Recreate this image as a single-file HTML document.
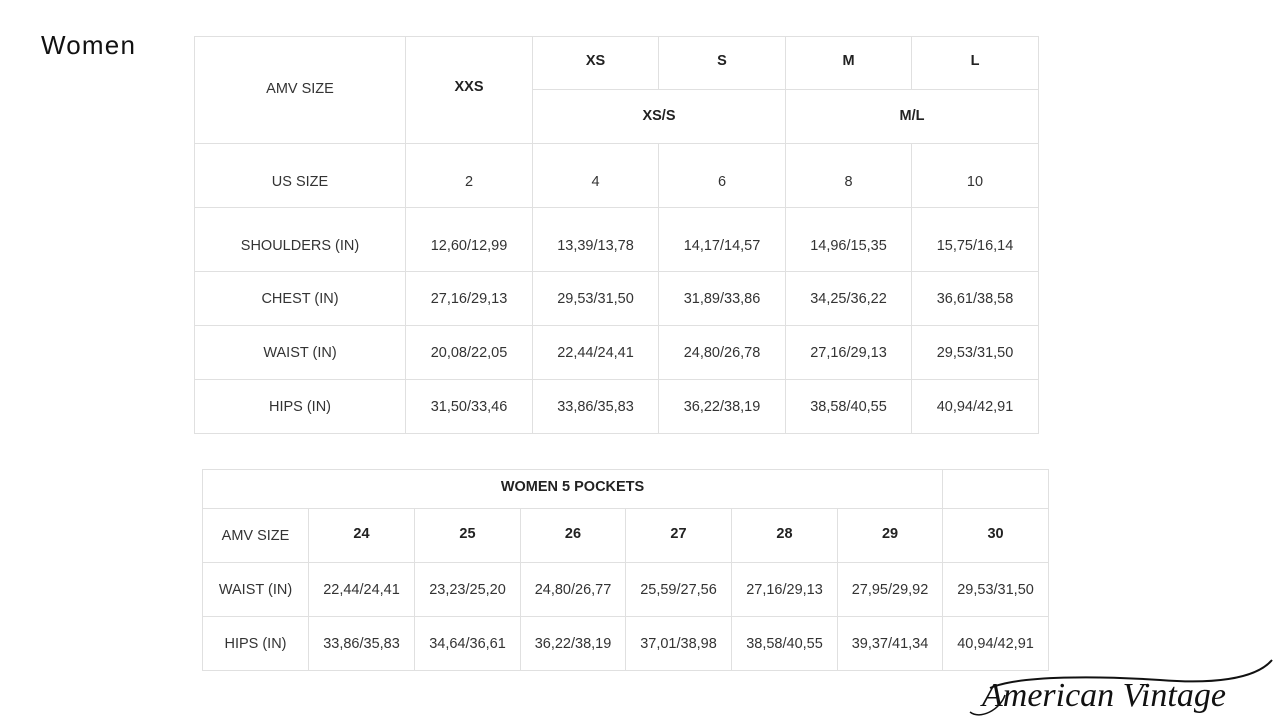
<!DOCTYPE html>
<html><head><meta charset="utf-8"><style>
body{margin:0;width:1280px;height:720px;background:#fff;position:relative;overflow:hidden;font-family:"Liberation Sans",Arial,sans-serif;color:#333}
.t{position:absolute;border-collapse:collapse;table-layout:fixed}
.t td{border:1px solid #e0e0e0;text-align:center;font-size:14.5px;padding:0;color:#333}
.t td.b{font-weight:bold;color:#222}
.t tr.u td{padding-bottom:4px}
.t tr.u2 td{padding-bottom:2px}
.t tr.d td{padding-top:12px}
.t tr.u3 td.b{padding-bottom:4px}
h1{position:absolute;left:41px;top:30px;margin:0;font-weight:normal;font-size:26px;color:#111;letter-spacing:1.2px}
</style></head><body>
<h1>Women</h1>
<table class="t" style="left:194px;top:36px;width:845px">
<colgroup><col style="width:211px"><col style="width:127px"><col style="width:126px"><col style="width:127px"><col style="width:126px"><col style="width:127px"></colgroup>
<tr class="u" style="height:53px"><td rowspan="2" style="padding-bottom:2px">AMV SIZE</td><td rowspan="2" class="b" style="padding-bottom:6px">XXS</td><td class="b">XS</td><td class="b">S</td><td class="b">M</td><td class="b">L</td></tr>
<tr class="u2" style="height:54px"><td colspan="2" class="b">XS/S</td><td colspan="2" class="b">M/L</td></tr>
<tr class="d" style="height:64px"><td>US SIZE</td><td>2</td><td>4</td><td>6</td><td>8</td><td>10</td></tr>
<tr class="d" style="height:64px"><td>SHOULDERS (IN)</td><td>12,60/12,99</td><td>13,39/13,78</td><td>14,17/14,57</td><td>14,96/15,35</td><td>15,75/16,14</td></tr>
<tr style="height:54px"><td>CHEST (IN)</td><td>27,16/29,13</td><td>29,53/31,50</td><td>31,89/33,86</td><td>34,25/36,22</td><td>36,61/38,58</td></tr>
<tr style="height:54px"><td>WAIST (IN)</td><td>20,08/22,05</td><td>22,44/24,41</td><td>24,80/26,78</td><td>27,16/29,13</td><td>29,53/31,50</td></tr>
<tr style="height:54px"><td>HIPS (IN)</td><td>31,50/33,46</td><td>33,86/35,83</td><td>36,22/38,19</td><td>38,58/40,55</td><td>40,94/42,91</td></tr>
</table>
<table class="t" style="left:202px;top:469px;width:846px">
<colgroup><col style="width:106px"><col style="width:106px"><col style="width:106px"><col style="width:105px"><col style="width:106px"><col style="width:106px"><col style="width:105px"><col style="width:106px"></colgroup>
<tr class="u" style="height:39px"><td colspan="7" class="b">WOMEN 5 POCKETS</td><td></td></tr>
<tr class="u3" style="height:54px"><td>AMV SIZE</td><td class="b">24</td><td class="b">25</td><td class="b">26</td><td class="b">27</td><td class="b">28</td><td class="b">29</td><td class="b">30</td></tr>
<tr style="height:54px"><td>WAIST (IN)</td><td>22,44/24,41</td><td>23,23/25,20</td><td>24,80/26,77</td><td>25,59/27,56</td><td>27,16/29,13</td><td>27,95/29,92</td><td>29,53/31,50</td></tr>
<tr style="height:54px"><td>HIPS (IN)</td><td>33,86/35,83</td><td>34,64/36,61</td><td>36,22/38,19</td><td>37,01/38,98</td><td>38,58/40,55</td><td>39,37/41,34</td><td>40,94/42,91</td></tr>
</table>
<svg style="position:absolute;left:960px;top:650px" width="320" height="70">
<path d="M30 38 C60 25,140 26,200 30 C250 34,295 30,312 10" fill="none" stroke="#111" stroke-width="2"/>
<path d="M10 62 C20 70,40 60,45 45" fill="none" stroke="#111" stroke-width="1.5"/>
<text x="22" y="56" font-family="Liberation Serif,serif" font-style="italic" font-size="34" fill="#111">American Vintage</text>
</svg>
</body></html>
